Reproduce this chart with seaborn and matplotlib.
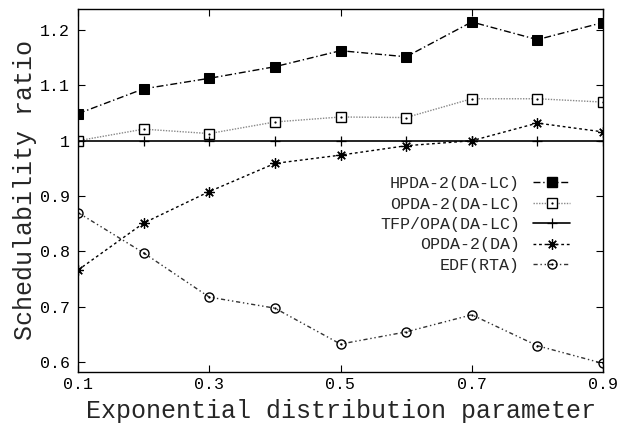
import matplotlib
matplotlib.use("Agg")
import matplotlib.pyplot as plt
import seaborn as sns
from matplotlib.lines import Line2D
from matplotlib.legend_handler import HandlerTuple

# values
x = [0.1, 0.2, 0.3, 0.4, 0.5, 0.6, 0.7, 0.8, 0.9]
hpda_lc = [1.049, 1.094, 1.113, 1.134, 1.163, 1.152, 1.215, 1.183, 1.214]
opda_lc = [1.000, 1.021, 1.013, 1.034, 1.043, 1.042, 1.076, 1.076, 1.070]
tfp_lc = [1.0, 1.0, 1.0, 1.0, 1.0, 1.0, 1.0, 1.0, 1.0]
opda_da = [0.766, 0.851, 0.908, 0.959, 0.974, 0.991, 1.000, 1.032, 1.016]
edf_rta = [0.870, 0.797, 0.717, 0.697, 0.632, 0.654, 0.685, 0.629, 0.597]

labels = ["HPDA-2(DA-LC)", "OPDA-2(DA-LC)", "TFP/OPA(DA-LC)", "OPDA-2(DA)", "EDF(RTA)"]
xticks = [0.1, 0.3, 0.5, 0.7, 0.9]
xtick_labels = ["0.1", "0.3", "0.5", "0.7", "0.9"]
yticks = [0.6, 0.7, 0.8, 0.9, 1.0, 1.1, 1.2]
ytick_labels = ["0.6", "0.7", "0.8", "0.9", "1", "1.1", "1.2"]

sns.set_style("ticks")
plt.rcParams["font.family"] = ["Liberation Mono", "DejaVu Sans"]

fig = plt.figure(figsize=(6.25, 4.23), dpi=100)
ax = fig.add_axes([78 / 625, 1 - 371.7 / 423, 525 / 625, 363 / 423])

lw = 1.0
ms = 6.5
sty = {
    "hpda": dict(color="black", linestyle=(0, (5, 2, 1, 2)), marker="s", markersize=ms,
                 markerfacecolor="black", markeredgecolor="black"),
    "opda_lc": dict(color="#888888", linestyle=(0, (1, 1)), marker="s", markersize=ms,
                    markerfacecolor="white", markeredgecolor="black", markeredgewidth=1.0),
    "tfp": dict(color="black", linestyle="-", marker="+", markersize=ms + 1,
                markeredgecolor="black", markeredgewidth=0.9),
    "opda_da": dict(color="black", linestyle=(0, (2, 2)), marker=(8, 2, 0), markersize=ms + 1,
                    markeredgecolor="black", markeredgewidth=0.9),
    "edf": dict(color="#333333", linestyle=(0, (3, 2, 1, 2, 1, 2)), marker="o", markersize=ms,
                markerfacecolor="none", markeredgecolor="black", markeredgewidth=1.0),
}
dot = dict(color="black", linestyle="None", marker="o", markersize=1.6,
           markerfacecolor="black", markeredgecolor="black", markeredgewidth=0)

sns.lineplot(x=x, y=hpda_lc, ax=ax, linewidth=lw, **sty["hpda"])
sns.lineplot(x=x, y=opda_lc, ax=ax, linewidth=lw, **sty["opda_lc"])
sns.lineplot(x=x, y=opda_lc, ax=ax, **dot)
sns.lineplot(x=x, y=opda_da, ax=ax, linewidth=lw, **sty["opda_da"])
sns.lineplot(x=x, y=edf_rta, ax=ax, linewidth=lw, **sty["edf"])
sns.lineplot(x=x, y=edf_rta, ax=ax, **dot)
sns.lineplot(x=x, y=tfp_lc, ax=ax, linewidth=1.2, **sty["tfp"])

ax.set_xlim(0.1, 0.9)
ax.set_ylim(0.582, 1.239)
ax.set_xticks(xticks)
ax.set_xticklabels(xtick_labels)
ax.set_yticks(yticks)
ax.set_yticklabels(ytick_labels)
ax.tick_params(axis="both", direction="in", top=True, right=True, length=5,
               width=0.8, labelsize=12, colors="black")
ax.tick_params(axis="x", pad=4)
ax.tick_params(axis="y", pad=6)
for s in ax.spines.values():
    s.set_visible(True)
    s.set_linewidth(1.0)
    s.set_color("black")

ax.set_xlabel("Exponential distribution parameter", fontsize=18, labelpad=5)
ax.set_ylabel("Schedulability ratio", fontsize=18, labelpad=2)

# legend handles like gnuplot's key
handles = [
    Line2D([], [], linewidth=lw, **sty["hpda"]),
    (Line2D([], [], linewidth=lw, **sty["opda_lc"]), Line2D([], [], **dot)),
    Line2D([], [], linewidth=1.2, **sty["tfp"]),
    Line2D([], [], linewidth=lw, **sty["opda_da"]),
    (Line2D([], [], linewidth=lw, **sty["edf"]), Line2D([], [], **dot)),
]
fig.legend(handles, labels, loc="upper right", bbox_to_anchor=(570 / 625, 1 - 176 / 423),
           markerfirst=False, frameon=False, fontsize=12, handlelength=2.2,
           handletextpad=0.8, labelspacing=0.33, borderpad=0, borderaxespad=0,
           handler_map={tuple: HandlerTuple(ndivide=1, pad=0)})

fig.savefig("out.png", dpi=100)
